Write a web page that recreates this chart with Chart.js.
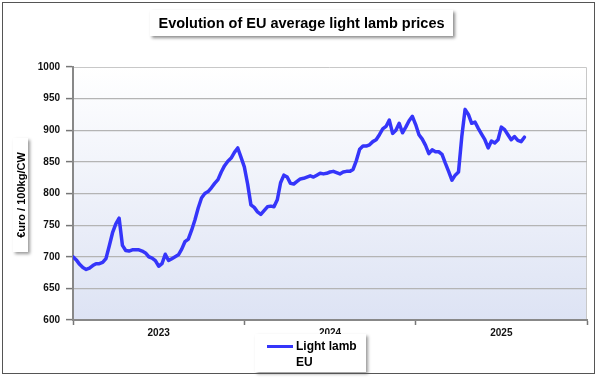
<!DOCTYPE html>
<html>
<head>
<meta charset="utf-8">
<script src="https://cdn.jsdelivr.net/npm/chart.js@4"></script>
<style>
  html, body { margin: 0; padding: 0; background: #ffffff; }
  #wrap { position: relative; width: 600px; height: 379px; overflow: hidden; font-family: "Liberation Sans", Arial, sans-serif; }
  #frame { position: absolute; left: 2px; top: 2px; width: 593px; height: 372px; border: 1.5px solid #555; box-sizing: border-box; pointer-events: none; }
  #c { position: absolute; left: 0; top: 0; }
  #title { position: absolute; left: 150px; top: 10px; width: 303px; height: 26px; background: #fff;
           box-shadow: 2px 2px 3px rgba(0,0,0,0.45); font-weight: bold; font-size: 14.5px; line-height: 26px; text-align: center; color: #000; }
  #ytitle { position: absolute; left: 13px; top: 138px; width: 15px; height: 114px; background: #fff;
            box-shadow: 2px 2px 3px rgba(0,0,0,0.4); }
  #ytitle span { position: absolute; left: 50%; top: 50%; transform: translate(-50%,-50%) rotate(-90deg); white-space: nowrap;
                 font-weight: bold; font-size: 11px; color: #000; }
  #legend { position: absolute; left: 255px; top: 334px; width: 111px; height: 38px; background: #fff;
            box-shadow: 2px 2px 3px rgba(0,0,0,0.4); }
  #legend .sw { position: absolute; left: 12px; width: 26px; height: 3px; }
  #legend .t1 { position: absolute; left: 41px; top: 5px; font-weight: bold; font-size: 12px; color: #000; white-space: nowrap; }
  #legend .t2 { position: absolute; left: 41px; top: 21px; font-weight: bold; font-size: 12px; color: #000; white-space: nowrap; }
</style>
</head>
<body>
<div id="wrap">
  <canvas id="c" width="600" height="379"></canvas>
  <div id="title"></div>
  <div id="ytitle"><span></span></div>
  <div id="legend"><div class="sw" style="top:11px"></div><div class="t1"></div><div class="t2"></div></div>
  <div id="frame"></div>
</div>
<script>
// ---- data ----
const chartTitle = "Evolution of EU average light lamb prices";
const yAxisTitle = "€uro / 100kg/CW";
const seriesLabelLine1 = "Light lamb";
const seriesLabelLine2 = "EU";
const years = ["2023", "2024", "2025"];
const weeksPerYear = 52;
const yTicks = [600, 650, 700, 750, 800, 850, 900, 950, 1000];
// weekly EU average light lamb price, from 2023 week 1 to 2025 week 34
const prices = [
  700, 695, 688, 683, 680, 682, 686, 689, 689, 691,
  697, 717, 738, 752, 761, 718, 710, 709, 711, 711,
  711, 709, 706, 700, 698, 694, 685, 689, 704, 694,
  697, 700, 703, 712, 724, 728, 742, 758, 777, 793,
  800, 803, 809, 816, 822, 834, 844, 851, 856, 865,
  872, 857, 842, 815, 782, 778, 771, 767, 773, 779,
  780, 779, 790, 817, 829, 826, 816, 815, 819, 823,
  824, 826, 828, 826, 829, 832, 831, 832, 834, 835,
  833, 831, 834, 835, 835, 838, 852, 870, 875, 875,
  877, 882, 885, 893, 902, 906, 916, 895, 900, 911,
  896, 905, 915, 922, 909, 893, 886, 876, 863, 869,
  866, 866, 862, 848, 835, 821, 829, 834, 890, 933,
  925, 911, 913, 903, 894, 885, 872, 883, 880, 885,
  905, 901, 893, 885, 890, 884, 882, 889
];
// ---- end data ----

document.getElementById('title').textContent = chartTitle;
document.querySelector('#ytitle span').textContent = yAxisTitle;
document.querySelector('#legend .t1').textContent = seriesLabelLine1;
document.querySelector('#legend .t2').textContent = seriesLabelLine2;
const lineColor = '#3535fa';
document.querySelector('#legend .sw').style.background = lineColor;

const totalWeeks = years.length * weeksPerYear;
const points = prices.map((v, i) => ({ x: i, y: v }));
const boundaryTicks = [];
for (let k = 0; k <= years.length; k++) boundaryTicks.push(k * weeksPerYear);
const midTicks = years.map((y, k) => k * weeksPerYear + weeksPerYear / 2);

const bgPlugin = {
  id: 'bg',
  beforeDraw(chart) {
    const { ctx, chartArea: a } = chart;
    const g = ctx.createLinearGradient(0, a.top, 0, a.bottom);
    g.addColorStop(0, '#ffffff');
    g.addColorStop(1, '#dde3f4');
    ctx.save();
    ctx.fillStyle = g;
    ctx.fillRect(a.left, a.top, a.right - a.left, a.bottom - a.top);
    ctx.strokeStyle = '#c8c8c8';
    ctx.lineWidth = 1;
    ctx.beginPath();
    ctx.moveTo(a.left, a.top + 0.5);
    ctx.lineTo(a.right - 0.5, a.top + 0.5);
    ctx.lineTo(a.right - 0.5, a.bottom);
    ctx.stroke();
    ctx.restore();
  }
};

new Chart(document.getElementById('c'), {
  type: 'line',
  data: {
    datasets: [{
      label: seriesLabelLine1 + ' ' + seriesLabelLine2,
      data: points,
      borderColor: lineColor,
      borderWidth: 3.5,
      pointRadius: 0,
      tension: 0,
      fill: false,
      borderJoinStyle: 'round',
      borderCapStyle: 'round'
    }]
  },
  plugins: [bgPlugin],
  options: {
    responsive: false,
    animation: false,
    devicePixelRatio: 1,
    layout: { padding: { left: 0, right: 13, top: 67, bottom: 0 } },
    plugins: { legend: { display: false }, title: { display: false }, tooltip: { enabled: false } },
    scales: {
      x: {
        type: 'linear',
        min: 0,
        max: totalWeeks,
        afterFit(s) { s.height = 59; },
        afterBuildTicks(s) {
          s.ticks = boundaryTicks.concat(midTicks).sort((a, b) => a - b).map(v => ({ value: v }));
        },
        ticks: {
          autoSkip: false,
          maxRotation: 0,
          padding: 2,
          color: '#111',
          font: { family: '"Liberation Sans", Arial, sans-serif', size: 10, weight: 'bold' },
          callback(v) {
            const k = midTicks.indexOf(v);
            return k >= 0 ? years[k] : '';
          }
        },
        grid: {
          drawOnChartArea: false,
          drawTicks: true,
          tickLength: 5,
          tickColor(ctx) { return (ctx.tick && boundaryTicks.includes(ctx.tick.value)) ? '#777' : 'rgba(0,0,0,0)'; },
          tickWidth: 1.5
        },
        border: { display: true, color: '#888', width: 2 }
      },
      y: {
        min: 600,
        max: 1000,
        afterFit(s) { s.width = 73; },
        afterBuildTicks(s) { s.ticks = yTicks.map(v => ({ value: v })); },
        ticks: {
          padding: 6,
          color: '#111',
          font: { family: '"Liberation Sans", Arial, sans-serif', size: 10, weight: 'bold' },
          callback(v) { return String(v); }
        },
        grid: {
          color(ctx) { return ctx.tick && ctx.tick.value === 1000 ? 'rgba(0,0,0,0)' : '#b4b4b4'; },
          lineWidth: 1.2,
          tickLength: 7,
          tickColor: '#777',
          tickWidth: 1.5
        },
        border: { display: true, color: '#888', width: 2 }
      }
    }
  }
});
</script>
</body>
</html>
